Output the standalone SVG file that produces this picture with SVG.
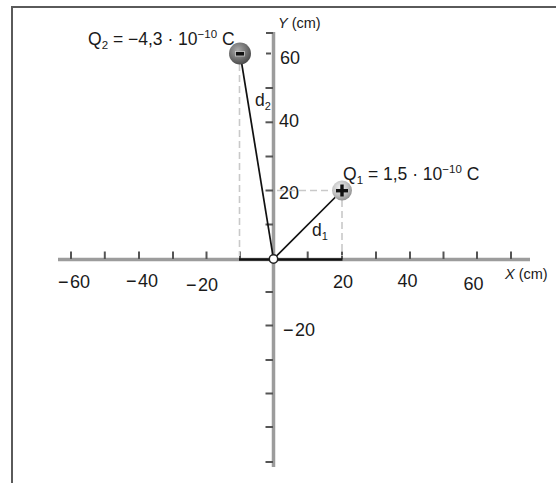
<svg xmlns="http://www.w3.org/2000/svg" width="556" height="483" viewBox="0 0 556 483">
<defs>
<style>
.t{font-family:"Liberation Sans",Arial,sans-serif;font-size:17.5px;fill:#1a1a1a}
.n{font-family:"Liberation Sans",Arial,sans-serif;font-size:18px;fill:#1a1a1a}
.ax{font-family:"Liberation Sans",Arial,sans-serif;font-size:14.5px;fill:#1a1a1a}
.tick{stroke:#555;stroke-width:2}
.axis{stroke:#9c9c9c;stroke-width:3.5;fill:none}
.dash{stroke:#c9c9c9;stroke-width:1.6;stroke-dasharray:7 4;fill:none}
.d{stroke:#111;stroke-width:1.7;fill:none}
</style>
<radialGradient id="gNeg" cx="0.4" cy="0.35" r="0.7">
<stop offset="0" stop-color="#aaaaaa"/>
<stop offset="0.6" stop-color="#707070"/>
<stop offset="1" stop-color="#444444"/>
</radialGradient>
<radialGradient id="gPos" cx="0.4" cy="0.35" r="0.7">
<stop offset="0" stop-color="#f2f2f2"/>
<stop offset="0.6" stop-color="#bdbdbd"/>
<stop offset="1" stop-color="#8a8a8a"/>
</radialGradient>
</defs>
<rect width="556" height="483" fill="#fff"/>
<path id="frame" d="M12,483 V7 H556" fill="none" stroke="#5a5a5a" stroke-width="2"/>

<g id="axes">
<line class="axis" x1="58" y1="259.5" x2="530" y2="259.5"/>
<line class="axis" x1="273.5" y1="32" x2="273.5" y2="467"/>
<g class="tick">
<line x1="71" y1="251.5" x2="71" y2="259"/>
<line x1="104.8" y1="251.5" x2="104.8" y2="259"/>
<line x1="139" y1="251.5" x2="139" y2="259"/>
<line x1="173" y1="251.5" x2="173" y2="259"/>
<line x1="206.5" y1="251.5" x2="206.5" y2="259"/>
<line x1="240" y1="251.5" x2="240" y2="259"/>
<line x1="307.7" y1="251.5" x2="307.7" y2="259"/>
<line x1="342" y1="251.5" x2="342" y2="259"/>
<line x1="376" y1="251.5" x2="376" y2="259"/>
<line x1="410" y1="251.5" x2="410" y2="259"/>
<line x1="443.5" y1="251.5" x2="443.5" y2="259"/>
<line x1="477" y1="251.5" x2="477" y2="259"/>
<line x1="511" y1="251.5" x2="511" y2="259"/>
<line x1="266" y1="33" x2="273" y2="33"/>
<line x1="266" y1="53.5" x2="271" y2="53.5"/>
<line x1="265.5" y1="88" x2="273" y2="88"/>
<line x1="265.5" y1="122.3" x2="273" y2="122.3"/>
<line x1="265.5" y1="156.5" x2="273" y2="156.5"/>
<line x1="265.5" y1="190.5" x2="273" y2="190.5"/>
<line x1="265.5" y1="224.5" x2="273" y2="224.5"/>
<line x1="265.5" y1="292" x2="273" y2="292"/>
<line x1="265.5" y1="325.5" x2="273" y2="325.5"/>
<line x1="265.5" y1="360" x2="273" y2="360"/>
<line x1="265.5" y1="393.5" x2="273" y2="393.5"/>
<line x1="265.5" y1="427" x2="273" y2="427"/>
<line x1="265.5" y1="462" x2="273" y2="462"/>
</g>
<text class="n" x="58" y="288">−<tspan dx="1.5">60</tspan></text>
<text class="n" x="126" y="287">−<tspan dx="1.5">40</tspan></text>
<text class="n" x="186" y="291">−<tspan dx="1.5">20</tspan></text>
<text class="n" x="333" y="288">20</text>
<text class="n" x="397.5" y="286.5">40</text>
<text class="n" x="463.5" y="289.5">60</text>
<text class="ax" x="505" y="279"><tspan font-style="italic">X</tspan> (cm)</text>
<text class="n" x="280" y="63.5">60</text>
<text class="n" x="279" y="127">40</text>
<text class="n" x="279" y="199">20</text>
<text class="n" x="283" y="335.5">−<tspan dx="1.5">20</tspan></text>
<text class="ax" x="278" y="28"><tspan font-style="italic">Y</tspan> (cm)</text>
</g>

<g id="connectors">
<line class="dash" x1="239.5" y1="64" x2="239.5" y2="256"/>
<line class="dash" x1="342" y1="200" x2="342" y2="256"/>
<line class="dash" x1="277" y1="190.5" x2="332" y2="190.5"/>
<line x1="239" y1="259.5" x2="342.5" y2="259.5" stroke="#111" stroke-width="2.5"/>
<line id="d2" class="d" x1="273.5" y1="259" x2="240" y2="53"/>
<line id="d1" class="d" x1="273.5" y1="259" x2="342" y2="190.5"/>
<text class="t" x="255" y="106" font-size="16.5">d<tspan font-size="11" dy="4">2</tspan></text>
<text class="t" x="312" y="236" font-size="16.5">d<tspan font-size="11" dy="4">1</tspan></text>
</g>

<g id="origin">
<circle cx="273.5" cy="259" r="4.2" fill="#fff" stroke="#222" stroke-width="1.5"/>
</g>

<g id="Q2">
<circle cx="240" cy="53.5" r="11" fill="url(#gNeg)"/>
<rect x="235.5" y="51.5" width="9" height="4.5" fill="#111" stroke="#cfcfcf" stroke-width="0.8"/>
<text class="t" x="88" y="45">Q<tspan font-size="11.5" dy="4">2</tspan><tspan dy="-4"> = −4,3 · 10</tspan><tspan font-size="11.5" dy="-7">−10</tspan><tspan dy="7"> C</tspan></text>
</g>

<g id="Q1">
<circle cx="342" cy="190.5" r="10" fill="url(#gPos)"/>
<rect x="336" y="189" width="12" height="3.4" fill="#111"/>
<rect x="340.3" y="184.5" width="3.4" height="12" fill="#111"/>
<text class="t" x="343" y="180">Q<tspan font-size="11.5" dy="4">1</tspan><tspan dy="-4"> = 1,5 · 10</tspan><tspan font-size="11.5" dy="-7">−10</tspan><tspan dy="7"> C</tspan></text>
</g>
</svg>
